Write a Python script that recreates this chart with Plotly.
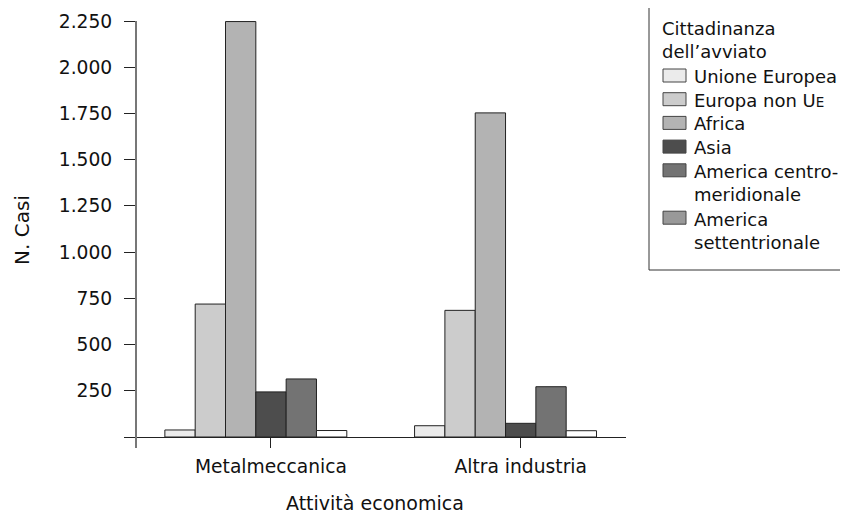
import plotly.graph_objects as go

CATEGORIES = ["Metalmeccanica", "Altra industria"]
SERIES = [
    "Unione Europea",
    "Europa non U<span style='font-size:13.5px'>E</span>",
    "Africa",
    "Asia",
    "America centro-<br>meridionale",
    "America<br>settentrionale",
]
UNIONE_EUROPEA = [38, 61]
EUROPA_NON_UE = [719, 685]
AFRICA = [2247, 1753]
ASIA = [244, 74]
AMERICA_CENTRO_MERIDIONALE = [314, 272]
AMERICA_SETTENTRIONALE = [35, 34]
EMPTY_SLOT = [0, 0]

Y_TICKS = [0, 250, 500, 750, 1000, 1250, 1500, 1750, 2000, 2250]
Y_TICK_LABELS = ["", "250", "500", "750", "1.000", "1.250", "1.500", "1.750", "2.000", "2.250"]

BAR_COLORS = ["#ebebeb", "#cccccc", "#b3b3b3", "#4d4d4d", "#737373", "#ffffff"]
SWATCH_COLORS = ["#ebebeb", "#cccccc", "#b3b3b3", "#4d4d4d", "#737373", "#999999"]

FONT = "DejaVu Sans"
FS = 18.7
LEGEND_FS = 18

# page body has an 8px margin, figure sits at (8, 8)
OFF = 8
FIG_W, FIG_H = 848 - OFF, 513 - OFF
# plot area in page pixels
L, T, W, H = 137, 21, 489, 427


def xp(px):
    return (px - L) / W


def yp(py):
    return (T + H - py) / H


series_values = [
    UNIONE_EUROPEA,
    EUROPA_NON_UE,
    AFRICA,
    ASIA,
    AMERICA_CENTRO_MERIDIONALE,
    AMERICA_SETTENTRIONALE,
]

fig = go.Figure()
for name, vals, color in zip(SERIES, series_values, BAR_COLORS):
    fig.add_trace(
        go.Bar(
            x=CATEGORIES,
            y=vals,
            name=name,
            showlegend=False,
            marker={"color": color, "line": {"color": "#222222", "width": 1}},
        )
    )
fig.add_trace(
    go.Bar(x=CATEGORIES, y=EMPTY_SLOT, showlegend=False,
           marker={"color": "rgba(0,0,0,0)", "line": {"width": 0}})
)

# hand-built legend box
shapes = [
    dict(type="rect", xref="paper", yref="paper",
         x0=xp(649), x1=xp(880), y0=yp(7), y1=yp(270),
         line={"color": "#333333", "width": 1}, fillcolor="rgba(0,0,0,0)")
]
annotations = [
    dict(xref="paper", yref="paper", x=xp(660), y=yp(39.5),
         xanchor="left", yanchor="middle", showarrow=False, align="left",
         text="Cittadinanza<br>dell’avviato", font={"size": LEGEND_FS}),
    # axis titles
    dict(xref="paper", yref="paper", x=xp(375), y=yp(503),
         xanchor="center", yanchor="middle", showarrow=False,
         text="Attività economica", font={"size": 19}),
    dict(xref="paper", yref="paper", x=xp(22), y=yp(230),
         xanchor="center", yanchor="middle", showarrow=False, textangle=-90,
         text="N. Casi", font={"size": 20}),
]
line_idx = 0
for name, color in zip(SERIES, SWATCH_COLORS):
    n_lines = name.count("<br>") + 1
    first = 76.5 + 23.7 * line_idx
    shapes.append(
        dict(type="rect", xref="paper", yref="paper",
             x0=xp(663), x1=xp(686), y0=yp(first - 7.5), y1=yp(first + 5.5),
             line={"color": "#444444", "width": 1}, fillcolor=color)
    )
    annotations.append(
        dict(xref="paper", yref="paper", x=xp(692),
             y=yp(first + 23.7 * (n_lines - 1) / 2),
             xanchor="left", yanchor="middle", showarrow=False, align="left",
             text=name, font={"size": LEGEND_FS})
    )
    line_idx += n_lines

fig.update_layout(
    width=FIG_W,
    height=FIG_H,
    barmode="group",
    bargap=0.15,
    bargroupgap=0,
    paper_bgcolor="white",
    plot_bgcolor="white",
    font={"family": FONT, "size": FS, "color": "#111111"},
    margin={"l": L - OFF, "r": FIG_W - (L - OFF) - W, "t": T - OFF,
            "b": FIG_H - (T - OFF) - H, "autoexpand": False},
    showlegend=False,
    shapes=shapes,
    annotations=annotations,
    xaxis={
        "range": [-0.5366, 1.4217],
        "showgrid": False,
        "showline": False,
        "ticks": "inside",
        "ticklen": 11,
        "tickcolor": "#222222",
        "tickwidth": 1,
        "ticklabelstandoff": 5,
    },
    yaxis={
        "range": [-59.5, 2250],
        "tickvals": Y_TICKS,
        "ticktext": Y_TICK_LABELS,
        "showgrid": False,
        "showline": True,
        "linecolor": "#777777",
        "linewidth": 2,
        "ticks": "outside",
        "ticklen": 11,
        "tickcolor": "#222222",
        "tickwidth": 1,
        "ticklabelstandoff": 8,
        "zeroline": True,
        "zerolinecolor": "#222222",
        "zerolinewidth": 1,
    },
)

fig.write_html("out.html")
